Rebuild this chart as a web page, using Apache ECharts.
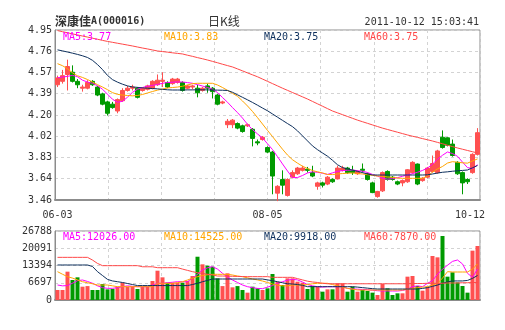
<!DOCTYPE html>
<html><head><meta charset="utf-8">
<script src="https://cdn.jsdelivr.net/npm/echarts@6/dist/echarts.min.js"></script>
<style>html,body{margin:0;padding:0;background:#fff}#c{width:505px;height:330px}</style>
</head><body><div id="c"></div>
<script>
const dates = ['06-03','06-09','06-10','06-13','06-14','06-15','06-16','06-17','06-20','06-21','06-22','06-23','06-24','06-27','06-28','06-29','06-30',
'07-01','07-04','07-05','07-06','07-07','07-08','07-11','07-12','07-13','07-14','07-15','07-18','07-19','07-20','07-21','07-22','07-25','07-26','07-27','07-28','07-29',
'08-01','08-02','08-03','08-04','08-05','08-08','08-09','08-10','08-11','08-12','08-15','08-16','08-17','08-18','08-19','08-22','08-23','08-24','08-25','08-26','08-29','08-30','08-31',
'09-01','09-02','09-05','09-06','09-07','09-08','09-09','09-13','09-14','09-15','09-16','09-19','09-20','09-21','09-22','09-23','09-26','09-27','09-28','09-29','09-30',
'10-10','10-11','10-12'];
const opens = [4.47,4.50,4.56,4.58,4.50,4.44,4.44,4.50,4.45,4.39, 4.32,4.30,4.24,4.33,4.42,4.44,4.44,4.42,4.43,4.44, 4.47,4.50,4.49,4.48,4.49,4.49,4.44,4.45,4.44,4.42, 4.46,4.44,4.38,4.31,4.12,4.12,4.13,4.11,4.11,4.08, 3.97,3.99,3.92,3.88,3.52,3.64,3.50,3.66,3.69,3.72, 3.73,3.70,3.58,3.61,3.60,3.64,3.645,3.72,3.74,3.72, 3.69,3.73,3.69,3.61,3.49,3.54,3.71,3.66,3.62,3.61, 3.62,3.70,3.775,3.63,3.66,3.71,3.70,4.01,4.005,3.95, 3.79,3.70,3.64,3.70,3.86];
const closes = [4.53,4.55,4.63,4.50,4.47,4.45,4.49,4.47,4.38,4.30, 4.22,4.27,4.34,4.42,4.44,4.45,4.36,4.44,4.46,4.50, 4.51,4.51,4.45,4.52,4.52,4.42,4.46,4.46,4.40,4.44, 4.44,4.41,4.30,4.32,4.15,4.16,4.09,4.06,4.12,4.00, 3.96,4.01,3.88,3.67,3.58,3.59,3.64,3.70,3.74,3.74, 3.72,3.67,3.61,3.59,3.66,3.62,3.74,3.74,3.70,3.70, 3.71,3.72,3.64,3.525,3.535,3.70,3.64,3.64,3.60,3.63, 3.725,3.79,3.60,3.65,3.74,3.78,3.89,3.92,3.94,3.85, 3.69,3.61,3.62,3.86,4.05];
const lows = [4.45,4.48,4.42,4.49,4.44,4.41,4.43,4.46,4.37,4.29, 4.20,4.26,4.22,4.32,4.41,4.42,4.35,4.41,4.42,4.43, 4.46,4.45,4.44,4.47,4.48,4.41,4.43,4.43,4.36,4.41, 4.40,4.35,4.29,4.30,4.09,4.09,4.08,4.05,4.10,3.93, 3.94,3.98,3.87,3.51,3.45,3.51,3.49,3.65,3.68,3.71, 3.70,3.66,3.55,3.57,3.59,3.61,3.64,3.71,3.69,3.68, 3.68,3.70,3.63,3.52,3.48,3.53,3.63,3.63,3.59,3.58, 3.61,3.69,3.59,3.62,3.65,3.70,3.69,3.91,3.93,3.84, 3.68,3.51,3.60,3.69,3.85];
const highs = [4.55,4.60,4.69,4.64,4.52,4.47,4.51,4.51,4.46,4.40, 4.33,4.32,4.35,4.44,4.46,4.47,4.45,4.45,4.47,4.51, 4.56,4.58,4.50,4.53,4.53,4.50,4.47,4.47,4.47,4.45, 4.48,4.45,4.39,4.33,4.17,4.17,4.14,4.12,4.13,4.09, 3.99,4.02,3.93,3.89,3.59,3.72,3.65,3.72,3.75,3.76, 3.75,3.76,3.62,3.62,3.67,3.65,3.76,3.76,3.75,3.76, 3.72,3.78,3.70,3.62,3.54,3.71,3.72,3.67,3.63,3.64, 3.73,3.80,3.78,3.66,3.75,3.85,3.90,4.07,4.01,3.99, 3.80,3.71,3.65,3.87,4.09];
const volumes = [3880,3880,11000,7760,8800,5170,5400,3880,3880,6200, 4140,4270,5170,6730,5170,5400,4270,5170,5170,7370, 11380,8800,6730,6730,6730,6730,7370,9300,16800,13850, 13330,12940,8410,5400,10350,4920,5400,3880,2850,5170, 4530,3880,4530,10090,7110,5820,8410,8410,7110,6730, 4270,5430,5170,3230,4140,4140,6470,6470,3230,5170, 3230,3880,3490,2850,1940,6200,4530,1940,2590,2590, 9060,9320,5430,3620,5170,17080,16560,24850,9060,10750, 6860,5430,2850,19150,20960];
const ma5 = [4.532,4.537,4.544,4.552,4.541,4.51,4.494,4.483,4.461,4.431, 4.387,4.343,4.317,4.325,4.361,4.404,4.431,4.446,4.457,4.464, 4.473,4.483,4.49,4.492,4.495,4.494,4.489,4.483,4.471,4.459, 4.446,4.431,4.402,4.358,4.317,4.27,4.226,4.178,4.123,4.077, 4.039,4.004,3.953,3.902,3.84,3.776,3.714,3.656,3.657,3.675, 3.697,3.707,3.703,3.695,3.684,3.698,3.711,3.718,3.721,3.723, 3.717,3.712,3.701,3.684,3.669,3.651,3.643,3.647,3.656,3.668, 3.68,3.691,3.703,3.719,3.74,3.774,3.818,3.852,3.881,3.867, 3.843,3.792,3.744,3.736,3.769];
const ma10 = [4.655,4.637,4.61,4.574,4.549,4.534,4.516,4.494,4.471,4.45, 4.427,4.401,4.386,4.38,4.376,4.373,4.376,4.385,4.398,4.411, 4.423,4.433,4.442,4.446,4.45,4.457,4.468,4.48,4.483,4.483, 4.483,4.483,4.468,4.446,4.421,4.395,4.369,4.328,4.284,4.236, 4.182,4.126,4.07,4.016,3.96,3.905,3.854,3.813,3.783,3.756, 3.736,3.718,3.707,3.697,3.684,3.683,3.688,3.692,3.695,3.697, 3.692,3.688,3.682,3.676,3.67,3.667,3.662,3.658,3.653,3.65, 3.65,3.65,3.65,3.65,3.67,3.705,3.732,3.754,3.784,3.796, 3.791,3.786,3.783,3.802,3.82];
const ma20 = [4.776,4.767,4.757,4.747,4.736,4.724,4.709,4.684,4.647,4.603, 4.552,4.515,4.493,4.475,4.46,4.451,4.447,4.443,4.44,4.437, 4.434,4.43,4.426,4.424,4.424,4.424,4.425,4.425,4.426,4.426, 4.425,4.424,4.423,4.422,4.42,4.404,4.382,4.36,4.338,4.315, 4.291,4.266,4.242,4.214,4.186,4.158,4.13,4.103,4.066,4.022, 3.978,3.934,3.901,3.872,3.844,3.808,3.769,3.744,3.733,3.722, 3.711,3.70,3.688,3.679,3.679,3.679,3.679,3.679,3.679,3.679, 3.679,3.679,3.679,3.679,3.681,3.688,3.696,3.703,3.707,3.712, 3.716,3.719,3.723,3.742,3.762];
const ma60 = [4.945,4.935,4.926,4.916,4.907,4.897,4.888,4.878,4.869,4.859, 4.85,4.842,4.834,4.826,4.818,4.81,4.801,4.792,4.784,4.775, 4.766,4.761,4.756,4.75,4.745,4.74,4.729,4.719,4.708,4.698, 4.687,4.675,4.663,4.65,4.638,4.626,4.609,4.592,4.574,4.557, 4.54,4.52,4.50,4.48,4.46,4.44,4.421,4.402,4.383,4.364, 4.345,4.324,4.303,4.282,4.261,4.24,4.224,4.208,4.192,4.176, 4.16,4.146,4.132,4.118,4.104,4.09,4.078,4.066,4.054,4.042, 4.03,4.019,4.009,3.998,3.988,3.977,3.965,3.953,3.94,3.928, 3.916,3.905,3.894,3.883,3.872];
const vma5 = [5820,5500,5600,6500,7500,7760,7200,6500,5500,4800, 4530,4530,4800,5170,5500,5300,5170,5170,5170,5800, 6480,6480,6700,6900,7100,7100,7100,8500,10000,11650, 12500,12940,12000,10350,8900,7760,6800,5820,5170,4800, 4500,4400,5000,5600,6500,7100,7700,8000,7800,7000, 6000,5500,5170,5000,5170,5170,5170,5170,4500,4300, 4200,4100,4000,3800,3600,3500,3500,3490,3490,3700, 4200,5170,5500,5170,6480,7500,10000,12000,13500,15000, 15530,14000,10350,8800,12026];
const vma10 = [11000,10000,9060,8500,7800,7100,6700,6300,5820,5820, 5820,5500,5170,5170,5170,5170,5170,5170,5170,5170, 6480,6480,6480,6480,6700,7100,7760,8500,9060,9500, 9800,9970,9970,9970,9970,9700,9300,9060,8600,8150, 7800,7370,6800,6200,5800,5500,5500,5820,5820,5820, 6000,6300,6480,6480,6480,6000,5500,5000,4500,4200, 3880,3880,3880,3880,3880,3880,3880,3880,3880,3880, 4200,4500,4800,5000,5170,5800,6480,8500,11000,10870, 10870,10870,10870,12000,14000];
const vma20 = [13590,13590,13590,13590,13590,13590,13590,13000,11000,9500, 8000,7400,7100,6800,6400,6000,5600,5600,5600,5600, 5600,5600,5600,5600,5600,5600,5600,6000,6500,7100, 7600,8150,8150,8150,8150,8150,8150,8150,8150,8150, 8150,8150,7800,7500,7100,6700,6300,6200,6000,5700, 5170,5170,5170,5170,5170,5170,5170,5170,5170,5170, 5000,4800,4600,4400,4270,4270,4270,4270,4270,4270, 4270,4270,4270,4500,4800,5300,5800,6500,7000,7400, 7400,7400,7600,8400,9500];
const vma60 = [16560,16560,16560,16560,16560,16560,16560,15500,14200,13330, 13330,13330,13330,13330,13330,13330,13330,12900,12900,12900, 12540,12540,12540,12540,12540,12000,11500,11000,10600,10300, 10000,9700,9300,9300,9250,9200,9150,9100,9060,9060, 9060,9060,9060,8800,8800,8800,8800,8800,8300,7800, 7300,7000,6800,6500,6300,6300,6300,6300,6300,6300, 6300,6300,6300,6300,6300,6300,6300,6300,6300,6300, 6300,6400,6400,6400,6500,6500,6500,6500,6600,6600, 6600,6700,6700,6800,6800];
const priceTicks = ['3.46','3.64','3.83','4.02','4.20','4.39','4.57','4.76','4.95'];
const volTicks = ['0','6697','13394','20091','26788'];
const xLabelIdx = [0, 42, 84];
const maNames = ['MA5','MA10','MA20','MA60'];
const maPriceText = ['3.77','3.83','3.75','3.75'];
const maVolText = ['12026.00','14525.00','9918.00','7870.00'];

const UP = '#ff5050', DOWN = '#009a00';
const MACOL = ['#ff00ff', '#ffa500', '#0d2f5c', '#ff4848'];
const MONO = 'DejaVu Sans Mono';
const CJK = 'Noto Sans CJK SC';
const TXT = '#333';

const chart = echarts.init(document.getElementById('c'), null, {renderer: 'canvas'});
const gridLine = {show: true, lineStyle: {color: '#d3d3d3', type: [3, 3], width: 1}};
const maLegendX = [63, 164, 264, 364];
const titles = [
  {left: 55, top: 15, text: '{c|深康佳}{m|A(000016)}', textStyle: {rich: {c: {fontFamily: CJK, fontSize: 12, color: TXT}, m: {fontFamily: MONO, fontSize: 10, color: TXT}}}},
  {left: 208, top: 15, text: '日K线', textStyle: {fontFamily: CJK, fontSize: 12, color: TXT, fontWeight: 'normal'}},
  {right: 26, top: 17, text: '2011-10-12 15:03:41', textStyle: {fontFamily: MONO, fontSize: 10, color: TXT, fontWeight: 'normal'}}
];
maNames.forEach((n, k) => {
  titles.push({left: maLegendX[k], top: 32, text: n + ':' + maPriceText[k],
    textStyle: {fontFamily: MONO, fontSize: 10, color: MACOL[k], fontWeight: 'normal'}});
  titles.push({left: maLegendX[k], top: 232, text: n + ':' + maVolText[k],
    textStyle: {fontFamily: MONO, fontSize: 10, color: MACOL[k], fontWeight: 'normal'}});
});
titles.forEach(t => { t.padding = 0; });

function maLine(data, k, xi, yi) {
  return {type: 'line', data: data, xAxisIndex: xi, yAxisIndex: yi, showSymbol: false, symbol: 'none',
    lineStyle: {color: MACOL[k], width: 1}, itemStyle: {color: MACOL[k]}, z: 3, silent: true};
}

const option = {
  animation: false,
  backgroundColor: '#fff',
  title: titles,
  grid: [
    {left: 55, right: 25, top: 30, height: 170, show: true, borderColor: '#8c8c8c', borderWidth: 1, backgroundColor: 'transparent'},
    {left: 55, right: 25, top: 231, height: 69, show: true, borderColor: '#8c8c8c', borderWidth: 1, backgroundColor: 'transparent'}
  ],
  xAxis: [
    {type: 'category', gridIndex: 0, data: dates, boundaryGap: true,
      axisLine: {show: true, lineStyle: {color: '#8c8c8c', width: 2}}, axisTick: {show: false}, splitLine: {show: false},
      axisLabel: {show: true, margin: 10, fontFamily: MONO, fontSize: 10, color: TXT,
        interval: (i) => xLabelIdx.indexOf(i) >= 0,
        formatter: (v, i) => i === xLabelIdx[2] ? '{r|' + v + '}' : v,
        rich: {r: {fontFamily: MONO, fontSize: 10, color: TXT, padding: [0, 15, 0, 0]}}}},
    {type: 'value', gridIndex: 0, min: 0, max: 8, interval: 1, show: true,
      axisLine: {show: false}, axisTick: {show: false}, axisLabel: {show: false}, splitLine: gridLine},
    {type: 'category', gridIndex: 1, data: dates, boundaryGap: true,
      axisLine: {show: true, lineStyle: {color: '#8c8c8c', width: 2}}, axisTick: {show: false}, axisLabel: {show: false}, splitLine: {show: false}},
    {type: 'value', gridIndex: 1, min: 0, max: 8, interval: 1, show: true,
      axisLine: {show: false}, axisTick: {show: false}, axisLabel: {show: false}, splitLine: gridLine}
  ],
  yAxis: [
    {type: 'value', gridIndex: 0, min: 3.46, max: 4.95, interval: 0.18625, scale: true,
      axisLine: {show: true, lineStyle: {color: '#8c8c8c'}}, axisTick: {show: false}, splitLine: gridLine,
      axisLabel: {margin: 3, fontFamily: MONO, fontSize: 10, color: TXT,
        formatter: (v) => priceTicks[Math.round((v - 3.46) / 0.18625)]}},
    {type: 'value', gridIndex: 1, min: 0, max: 26788, interval: 6697,
      axisLine: {show: true, lineStyle: {color: '#8c8c8c'}}, axisTick: {show: false}, splitLine: gridLine,
      axisLabel: {margin: 3, fontFamily: MONO, fontSize: 10, color: TXT,
        formatter: (v) => volTicks[Math.round(v / 6697)]}}
  ],
  series: [
    {type: 'candlestick', xAxisIndex: 0, yAxisIndex: 0, barWidth: 4, z: 2,
      data: dates.map((d, i) => [opens[i], closes[i], lows[i], highs[i]]),
      itemStyle: {color: UP, color0: DOWN, borderColor: UP, borderColor0: DOWN, borderWidth: 1}},
    maLine(ma5, 0, 0, 0), maLine(ma10, 1, 0, 0), maLine(ma20, 2, 0, 0), maLine(ma60, 3, 0, 0),
    {type: 'bar', xAxisIndex: 2, yAxisIndex: 1, barWidth: 4, z: 2,
      data: volumes.map((v, i) => ({value: v, itemStyle: {color: closes[i] >= opens[i] ? UP : DOWN}}))},
    maLine(vma5, 0, 2, 1), maLine(vma10, 1, 2, 1), maLine(vma20, 2, 2, 1), maLine(vma60, 3, 2, 1)
  ]
};
chart.setOption(option);
</script>
</body></html>
